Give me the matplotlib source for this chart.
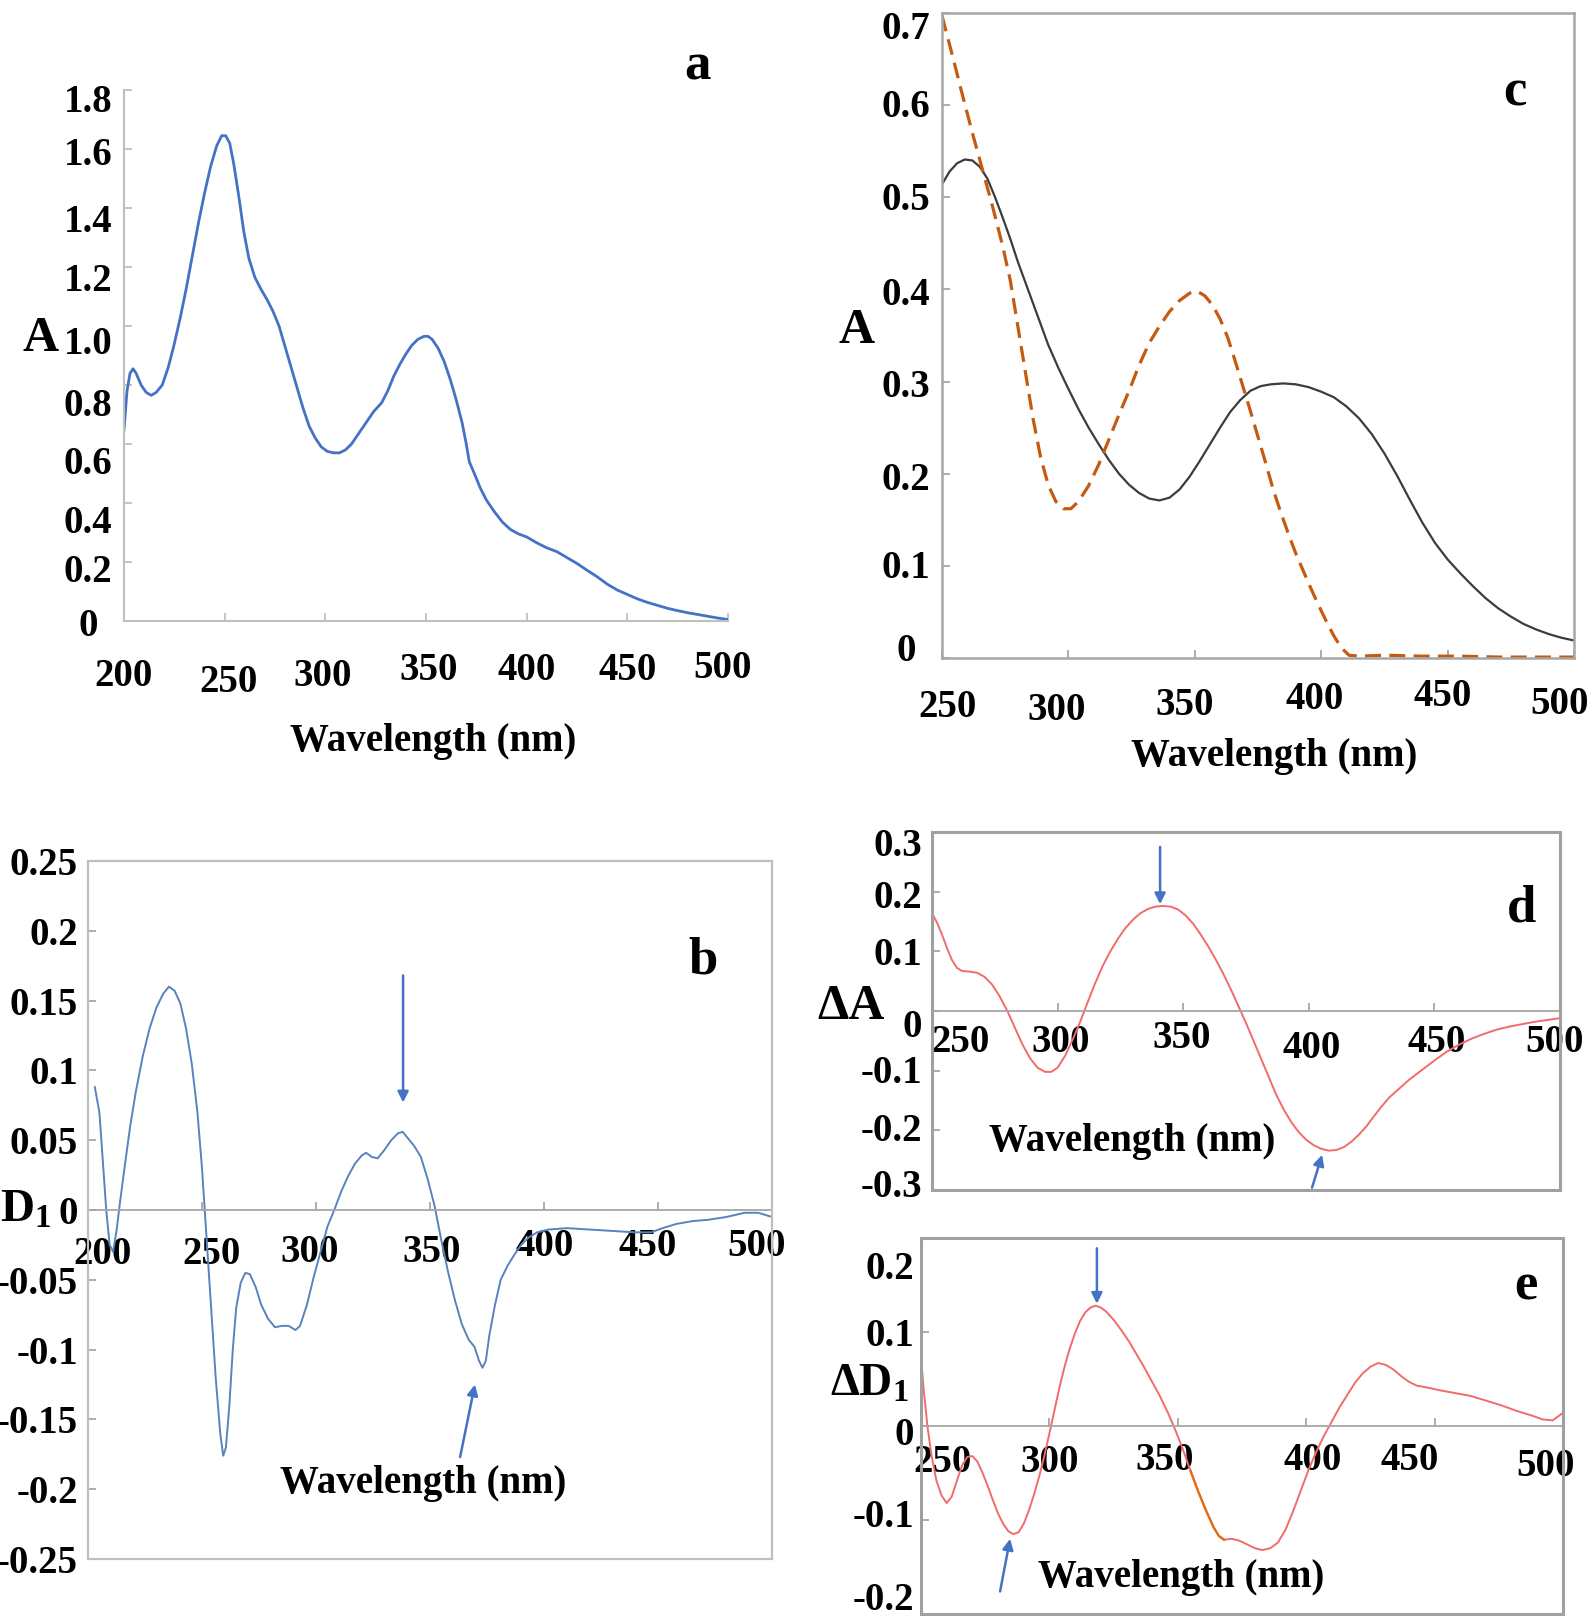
import matplotlib
matplotlib.use("Agg")
import matplotlib.pyplot as plt
import numpy as np
from matplotlib.patches import Rectangle
from matplotlib.transforms import Affine2D

W, H = 1593, 1620
plt.rcParams['font.family'] = ['Liberation Serif', 'DejaVu Serif']
plt.rcParams['font.weight'] = 'bold'
plt.rcParams['mathtext.fontset'] = 'custom'
plt.rcParams['mathtext.rm'] = 'Liberation Serif:bold'
plt.rcParams['mathtext.bf'] = 'Liberation Serif:bold'
plt.rcParams['mathtext.it'] = 'Liberation Serif:italic:bold'

# ---- donnees ----
# a : spectre d'absorption
a_wl = [200, 201.5, 203, 204.5, 206, 208.5, 211, 213.5, 216, 219, 222, 225, 228, 231, 234, 237,
        240, 243, 246, 248.5, 250.5, 252.5, 254.5, 257, 259.5, 262, 265, 268, 271, 274, 277,
        280, 283, 286, 289, 292, 295, 298, 301, 304, 307, 310, 313, 316, 320, 324, 328, 331,
        334, 337, 340, 343, 346, 349, 351, 353, 356, 359, 362, 365, 368, 370, 371.5, 374, 377,
        380, 384, 388, 392, 396, 400, 405, 410, 415, 420, 425, 430, 435, 440, 445, 450, 455,
        460, 465, 470, 475, 480, 485, 490, 495, 500]
a_abs = [0.648, 0.78, 0.84, 0.855, 0.84, 0.80, 0.775, 0.765, 0.775, 0.80, 0.86, 0.94, 1.03,
         1.13, 1.24, 1.35, 1.45, 1.54, 1.61, 1.645, 1.645, 1.62, 1.55, 1.44, 1.32, 1.23, 1.165,
         1.125, 1.09, 1.05, 1.0, 0.93, 0.86, 0.79, 0.72, 0.66, 0.62, 0.59, 0.575, 0.57, 0.57,
         0.58, 0.60, 0.63, 0.67, 0.71, 0.74, 0.78, 0.83, 0.87, 0.905, 0.935, 0.955, 0.965, 0.965,
         0.955, 0.925, 0.88, 0.82, 0.75, 0.67, 0.60, 0.54, 0.50, 0.45, 0.41, 0.37, 0.335, 0.31,
         0.295, 0.285, 0.265, 0.248, 0.235, 0.215, 0.195, 0.172, 0.15, 0.125, 0.105, 0.09,
         0.075, 0.063, 0.053, 0.043, 0.035, 0.028, 0.022, 0.016, 0.01, 0.005]
a_xticks = [200, 250, 300, 350, 400, 450, 500]
a_yticks = [0, 0.2, 0.4, 0.6, 0.8, 1.0, 1.2, 1.4, 1.6, 1.8]
a_ylabels = ['0', '0.2', '0.4', '0.6', '0.8', '1.0', '1.2', '1.4', '1.6', '1.8']

# b : derivee premiere D1
b_wl = [203, 205, 206.5, 208, 209.5, 211, 212.5, 214, 216, 218.5, 221, 224, 227, 230, 233,
        235.5, 238, 240.5, 243, 245.5, 248, 250, 252, 254, 256, 258, 259.3, 260.5, 262, 263.5,
        265, 267, 269, 271, 273.5, 276, 279, 282, 285, 288, 291, 293, 296, 299, 302, 305, 308,
        311, 314, 317, 320, 322, 324.5, 327, 330, 333, 336, 338, 340, 343, 346, 349, 352, 355,
        358, 361, 364, 367, 369.5, 371.5, 373, 374.5, 376, 378.5, 381, 384, 387, 390, 393, 397,
        402, 410, 420, 430, 440, 447, 452, 458, 465, 472, 480, 488, 494, 500]
b_d1 = [0.088, 0.07, 0.035, 0.0, -0.025, -0.03, -0.015, 0.005, 0.03, 0.06, 0.085, 0.11, 0.13,
        0.145, 0.155, 0.16, 0.157, 0.148, 0.13, 0.105, 0.07, 0.03, -0.02, -0.07, -0.12, -0.16,
        -0.176, -0.17, -0.14, -0.1, -0.07, -0.052, -0.045, -0.046, -0.055, -0.068, -0.078,
        -0.084, -0.083, -0.083, -0.086, -0.083, -0.068, -0.048, -0.03, -0.012, 0.0, 0.013,
        0.024, 0.033, 0.039, 0.041, 0.038, 0.037, 0.043, 0.05, 0.055, 0.056, 0.052, 0.046,
        0.038, 0.022, 0.003, -0.022, -0.045, -0.065, -0.082, -0.093, -0.098, -0.108, -0.113,
        -0.108, -0.09, -0.068, -0.05, -0.04, -0.032, -0.025, -0.02, -0.016, -0.014, -0.013,
        -0.014, -0.015, -0.016, -0.016, -0.013, -0.01, -0.008, -0.007, -0.005, -0.002, -0.002,
        -0.005]
b_xticks = [200, 250, 300, 350, 400, 450, 500]
b_yticks = [-0.25, -0.2, -0.15, -0.1, -0.05, 0, 0.05, 0.1, 0.15, 0.2, 0.25]
b_ylabels = ['-0.25', '-0.2', '-0.15', '-0.1', '-0.05', '0', '0.05', '0.1', '0.15', '0.2', '0.25']
b_arrows = [((338.2, 0.168), (338.2, 0.077)), ((363.2, -0.177), (369.7, -0.125))]

# c : deux spectres (trait plein et tirets)
c_wl_solid = [250, 253, 256, 259, 262, 265, 268, 271, 274, 277, 280, 284, 288, 292, 296, 300,
              304, 308, 312, 316, 320, 324, 328, 332, 336, 340, 344, 348, 352, 356, 360, 364,
              368, 372, 376, 380, 385, 390, 395, 400, 405, 410, 415, 420, 425, 430, 435, 440,
              445, 450, 455, 460, 465, 470, 475, 480, 485, 490, 495, 500]
c_abs_solid = [0.514, 0.528, 0.537, 0.541, 0.540, 0.533, 0.52, 0.50, 0.478, 0.455, 0.43, 0.40,
               0.37, 0.34, 0.315, 0.292, 0.27, 0.25, 0.232, 0.215, 0.2, 0.188, 0.179, 0.173,
               0.171, 0.174, 0.183, 0.197, 0.214, 0.232, 0.25, 0.267, 0.28, 0.29, 0.295, 0.297,
               0.298, 0.297, 0.294, 0.289, 0.283, 0.273, 0.26, 0.243, 0.222, 0.198, 0.172,
               0.147, 0.125, 0.107, 0.092, 0.078, 0.065, 0.054, 0.045, 0.037, 0.031, 0.026,
               0.022, 0.019]
c_wl_dash = [250, 254, 258, 262, 266, 270, 274, 277, 280, 283, 286, 289, 292, 295, 298, 301,
             304, 308, 312, 316, 320, 324, 328, 332, 336, 340, 344, 348, 351, 354, 357, 360,
             363, 366, 369, 372, 375, 378, 381, 384, 387, 390, 393, 396, 399, 402, 405, 408,
             411, 415, 425, 440, 455, 470, 485, 500]
c_abs_dash = [0.697, 0.655, 0.612, 0.57, 0.53, 0.49, 0.447, 0.41, 0.36, 0.31, 0.26, 0.218,
              0.188, 0.17, 0.162, 0.162, 0.17, 0.187, 0.21, 0.237, 0.264, 0.29, 0.318, 0.342,
              0.36, 0.376, 0.388, 0.396, 0.398, 0.393, 0.383, 0.368, 0.348, 0.322, 0.295,
              0.268, 0.24, 0.212, 0.183, 0.158, 0.135, 0.113, 0.094, 0.075, 0.057, 0.04, 0.024,
              0.011, 0.003, 0.002, 0.003, 0.002, 0.002, 0.001, 0.001, 0.001]
c_xticks = [250, 300, 350, 400, 450, 500]
c_yticks = [0, 0.1, 0.2, 0.3, 0.4, 0.5, 0.6, 0.7]
c_ylabels = ['0', '0.1', '0.2', '0.3', '0.4', '0.5', '0.6', '0.7']

# d : difference d'absorbance
d_wl = [250, 252, 254, 256, 258, 260, 262, 265, 268, 271, 274, 277, 280, 283, 286, 289, 292,
        295, 297.5, 300, 303, 306, 309, 312, 315, 318, 321, 324, 327, 330, 333, 336, 339, 342,
        345, 348, 351, 354, 357, 360, 363, 366, 369, 372, 375, 378, 381, 384, 387, 390, 393,
        396, 399, 402, 405, 408, 411, 414, 417, 420, 423, 426, 429, 432, 436, 440, 445, 450,
        455, 460, 465, 470, 475, 480, 485, 490, 495, 500]
d_da = [0.164, 0.148, 0.128, 0.105, 0.085, 0.072, 0.067, 0.066, 0.064, 0.057, 0.044, 0.024,
        0.0, -0.028, -0.056, -0.079, -0.095, -0.102, -0.102, -0.095, -0.075, -0.048, -0.018,
        0.015, 0.047, 0.076, 0.1, 0.121, 0.139, 0.153, 0.164, 0.171, 0.175, 0.176, 0.175, 0.17,
        0.16, 0.146, 0.128, 0.108, 0.086, 0.062, 0.036, 0.008, -0.02, -0.05, -0.08, -0.11,
        -0.14, -0.165, -0.186, -0.203, -0.216, -0.225, -0.231, -0.234, -0.233, -0.228, -0.219,
        -0.207, -0.193, -0.176, -0.16, -0.145, -0.13, -0.115, -0.099, -0.083, -0.068, -0.056,
        -0.046, -0.038, -0.031, -0.026, -0.022, -0.018, -0.015, -0.012]
d_xticks = [250, 300, 350, 400, 450, 500]
d_yticks = [-0.3, -0.2, -0.1, 0, 0.1, 0.2, 0.3]
d_ylabels = ['-0.3', '-0.2', '-0.1', '0', '0.1', '0.2', '0.3']
d_arrows = [((340.8, 0.275), (340.8, 0.179)), ((401.3, -0.296), (405.3, -0.241))]

# e : difference de derivee
e_wl = [250, 251, 252.5, 254, 256, 258, 260, 262, 264, 266, 268, 270, 272, 274, 276, 278, 280,
        282, 284, 286, 288, 290, 292, 294, 296, 298, 300, 302, 304, 306, 308, 310, 312, 314,
        316, 318, 320, 322, 325, 328, 331, 334, 337, 340, 343, 346, 349, 352, 355, 358, 361,
        364, 366, 368, 371, 374, 377, 380, 383, 386, 389, 392, 395, 398, 401, 404, 407, 410,
        413, 416, 419, 422, 425, 428, 431, 434, 437, 440, 443, 447, 452, 458, 464, 470, 476,
        482, 488, 492, 496, 500]
e_dd1 = [0.073, 0.04, 0.0, -0.03, -0.058, -0.074, -0.082, -0.075, -0.058, -0.042, -0.033,
         -0.032, -0.038, -0.05, -0.064, -0.079, -0.093, -0.104, -0.112, -0.115, -0.113, -0.104,
         -0.09, -0.073, -0.054, -0.032, -0.008, 0.017, 0.042, 0.064, 0.083, 0.099, 0.112, 0.121,
         0.126, 0.128, 0.126, 0.122, 0.113, 0.102, 0.09, 0.076, 0.062, 0.047, 0.032, 0.015,
         -0.004, -0.025, -0.048, -0.07, -0.09, -0.108, -0.117, -0.121, -0.12, -0.122, -0.126,
         -0.13, -0.132, -0.13, -0.124, -0.11, -0.09, -0.068, -0.046, -0.027, -0.01, 0.005, 0.02,
         0.033, 0.046, 0.056, 0.063, 0.067, 0.065, 0.06, 0.053, 0.047, 0.043, 0.041, 0.038,
         0.035, 0.032, 0.027, 0.022, 0.016, 0.011, 0.007, 0.006, 0.014]
e_xticks = [250, 300, 350, 400, 450, 500]
e_yticks = [-0.2, -0.1, 0, 0.1, 0.2]
e_ylabels = ['-0.2', '-0.1', '0', '0.1', '0.2']
e_arrows = [((318.5, 0.189), (318.5, 0.130)), ((280.8, -0.176), (284.7, -0.120))]

FS = 28
ARROW = '#4472C4'

fig = plt.figure(figsize=(W / 100, H / 100), dpi=100)


def box(l, t, r, b):
    # axes positionne en pixels (gauche, haut, droite, bas)
    return fig.add_axes([l / W, 1 - b / H, (r - l) / W, (b - t) / H])


def ftext(x, y, s, size=FS, **kw):
    fig.text(x / W, 1 - y / H, s, fontsize=size, fontweight='bold',
             ha=kw.pop('ha', 'center'), va=kw.pop('va', 'center'), **kw)


def shift(labels, dxs, dys):
    # decale chaque etiquette de quelques pixels (dy positif = vers le bas)
    for lab, dx, dy in zip(labels, dxs, dys):
        lab.set_transform(lab.get_transform() + Affine2D().translate(dx, -dy))


def ticks(ax, xt, yt, ylab, col, xpad, ypad, ycenter=False):
    ax.set_xticks(xt)
    ax.set_xticklabels([str(v) for v in xt])
    ax.set_yticks(yt)
    ax.set_yticklabels(ylab)
    ax.tick_params(direction='in', length=6, width=1.3, color=col, labelsize=FS)
    ax.tick_params(axis='x', pad=xpad * 0.72)
    ax.tick_params(axis='y', pad=ypad * 0.72)
    for lab in ax.get_xticklabels():
        lab.set_va('center')
    if ycenter:
        for lab in ax.get_yticklabels():
            lab.set_ha('center')


def zero_box(ax, col, lw):
    for s in ['top', 'right', 'left']:
        ax.spines[s].set_visible(False)
    ax.spines['bottom'].set_position(('data', 0))
    ax.spines['bottom'].set_color('#A6A6A6')
    ax.spines['bottom'].set_linewidth(1.3)
    ax.add_patch(Rectangle((0, 0), 1, 1, transform=ax.transAxes, fill=False,
                           ec=col, lw=lw, clip_on=False, zorder=5))


def arrows(ax, arr):
    for tail, head in arr:
        ax.annotate('', xy=head, xytext=tail,
                    arrowprops=dict(arrowstyle='-|>', color=ARROW, lw=1.8,
                                    mutation_scale=16, shrinkA=0, shrinkB=0))


# ---- a ----
ax = box(124, 90, 728, 621)
ax.plot(a_wl, a_abs, color='#4472C4', lw=2.0)
ax.set_xlim(200, 500)
ax.set_ylim(0, 1.8)
for s in ['top', 'right']:
    ax.spines[s].set_visible(False)
for s in ['left', 'bottom']:
    ax.spines[s].set_color('#BFBFBF')
    ax.spines[s].set_linewidth(1.5)
ticks(ax, a_xticks, a_yticks, a_ylabels, '#BFBFBF', 50, 36, ycenter=True)
shift(ax.get_xticklabels(), [0, 4, -3, 3, 0, 0, -5], [6, 11, 6, 0, 0, 0, -2])
shift(ax.get_yticklabels(), [0] * 10, [1, 6, 16, 16, 17, 14, 10, 10, 2, 8])
ftext(41, 339, 'A', size=36)
ftext(433, 742, 'Wavelength (nm)')
ftext(697, 67, 'a', size=38)

# ---- c ----
ax = box(942, 13, 1574, 658)
ax.plot(c_wl_solid, c_abs_solid, color='#3C3C3C', lw=1.6)
ax.plot(c_wl_dash, c_abs_dash, color='#C55A11', lw=2.3, dashes=(5, 2.6))
ax.set_xlim(250, 500)
ax.set_ylim(0, 0.7)
for s in ax.spines.values():
    s.set_color('#A6A6A6')
    s.set_linewidth(1.8)
ticks(ax, c_xticks, c_yticks, c_ylabels, '#A6A6A6', 45, 36, ycenter=True)
shift(ax.get_xticklabels(), [6, -12, -10, -7, -5, -14], [5, 8, 3, -3, -6, 2])
shift(ax.get_yticklabels(), [0] * 8, [-11, -2, 2, 1, 2, -1, -2, 12])
ftext(857, 331, 'A', size=36)
ftext(1274, 757, 'Wavelength (nm)')
ftext(1515, 93, 'c', size=38)

# ---- b ----
ax = box(88, 861, 772, 1559)
ax.plot(b_wl, b_d1, color='#5A82BE', lw=1.4)
ax.set_xlim(200, 500)
ax.set_ylim(-0.25, 0.25)
zero_box(ax, '#BFBFBF', 1.6)
ticks(ax, b_xticks, b_yticks, b_ylabels, '#A6A6A6', 40, 10)
shift(ax.get_xticklabels(), [15, 10, -6, 2, 1, -10, -15], [5, 5, 2, 2, -3, -3, -3])
arrows(ax, b_arrows)
ftext(0, 1222, r'D$_\mathrm{1}$', size=34, ha='left', va='baseline')
ftext(423, 1484, 'Wavelength (nm)')
ftext(703, 961, 'b', size=38)

# ---- d ----
ax = box(932, 832, 1560, 1190)
ax.plot(d_wl, d_da, color='#F26B6B', lw=1.4)
ax.set_xlim(250, 500)
ax.set_ylim(-0.3, 0.3)
zero_box(ax, '#A0A0A0', 2.2)
ticks(ax, d_xticks, d_yticks, d_ylabels, '#A6A6A6', 32, 10)
shift(ax.get_xticklabels(), [29, 3, -2, 3, 2, -5], [0, 0, -5, 5, 0, 0])
shift(ax.get_yticklabels(), [0] * 7, [-7, -3, -2, 12, 0, 2, 10])
arrows(ax, d_arrows)
ftext(851, 1007, 'ΔA', size=36)
ftext(1132, 1141, 'Wavelength (nm)')
ftext(1522, 909, 'd', size=38)

# ---- e ----
ax = box(921, 1238, 1563, 1614)
ax.plot(e_wl, e_dd1, color='#F26B6B', lw=1.4)
e_x = np.array(e_wl)
seg = (e_x >= 355) & (e_x <= 368)
ax.plot(e_x[seg], np.array(e_dd1)[seg], color='#E46C0A', lw=1.6)
ax.set_xlim(250, 500)
ax.set_ylim(-0.2, 0.2)
zero_box(ax, '#A0A0A0', 2.2)
ticks(ax, e_xticks, e_yticks, e_ylabels, '#A6A6A6', 35, 7)
shift(ax.get_xticklabels(), [22, 0, -13, 6, -25, -17], [1, 1, -1, -1, -1, 6])
shift(ax.get_yticklabels(), [0] * 5, [-18, -7, 5, 0, 27])
arrows(ax, e_arrows)
ftext(830, 1396, r'ΔD$_\mathrm{1}$', size=33, ha='left', va='baseline')
ftext(1181, 1577, 'Wavelength (nm)')
ftext(1526, 1286, 'e', size=38)

fig.savefig('out.png', dpi=100)
